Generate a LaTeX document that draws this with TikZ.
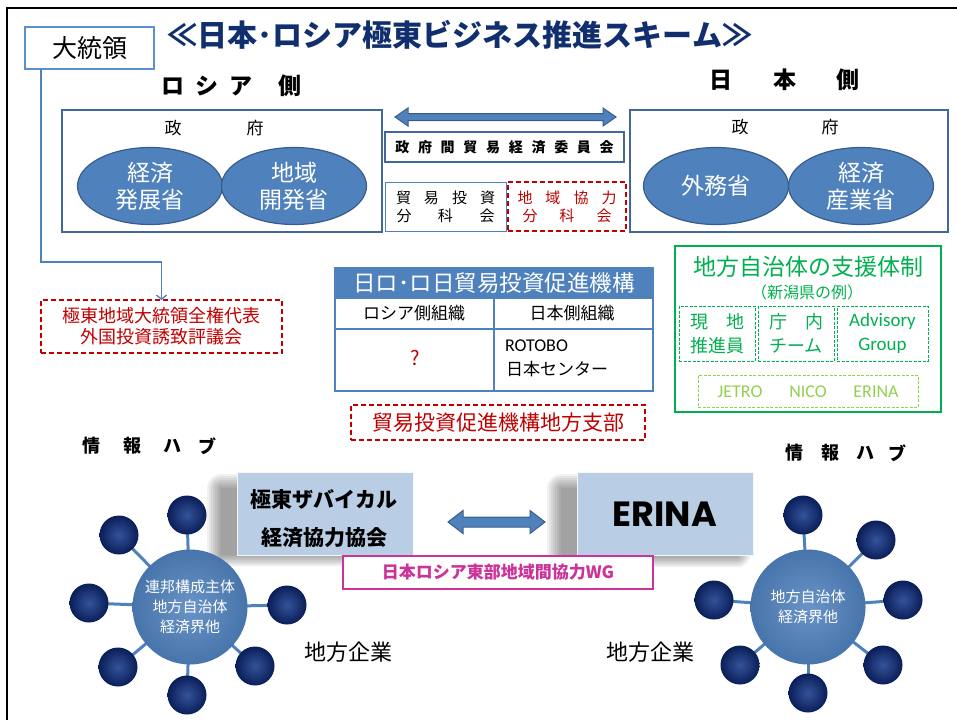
\documentclass[tikz,border=0pt]{standalone}
\usepackage{fontspec}
\setmainfont{Noto Sans CJK JP}
\newfontfamily\carl{Carlito}
\newfontfamily\popf{Poppins}
\usetikzlibrary{arrows.meta,calc,shapes.geometric,backgrounds}
\definecolor{titleblue}{HTML}{112F6E}
\definecolor{presblue}{HTML}{5B8FD0}
\definecolor{govline}{HTML}{44679A}
\definecolor{mblue}{HTML}{4F81BD}
\definecolor{dblue}{HTML}{385D8A}
\definecolor{rred}{HTML}{C00000}
\definecolor{ggreen}{HTML}{00B050}
\definecolor{lgreen}{HTML}{92D050}
\definecolor{magent}{HTML}{CC3399}
\definecolor{lbox}{HTML}{B9CDE5}
\definecolor{satin}{HTML}{34539A}
\definecolor{satout}{HTML}{0A1E58}
\newcommand\fsz[2]{\fontsize{#1pt}{#2pt}\selectfont}
\begin{document}
\begin{tikzpicture}[x=1pt,y=-1pt,
  every node/.style={inner sep=0pt,outer sep=0pt},
  govbox/.style={draw=govline,line width=1.8pt,minimum width=#1,minimum height=122pt},
  ministry/.style={ellipse,draw=dblue,line width=1.2pt,fill=mblue,minimum width=145pt,minimum height=77pt,text=white,font=\fsz{23}{27},align=center},
  reddash/.style={draw=rred,line width=1.5pt,dash pattern=on 5pt off 3pt,text=rred,align=center},
  gdash/.style={draw=ggreen,line width=1pt,dash pattern=on 3pt off 1.5pt,text=ggreen,align=center},
  sidechar/.style={font=\fsz{23}{26}\bfseries},
  hubchar/.style={font=\fsz{18}{22}\bfseries},
  lightbox/.style={fill=lbox,draw=white!85!lbox,line width=1pt,minimum width=176pt,minimum height=83pt,align=center},
  sat/.style={circle,minimum size=39pt,inner color=satin,outer color=satout},
  hub/.style={circle,minimum size=115pt,inner color=mblue!85!white,outer color=mblue!90!black,text=white,font=\fsz{15}{20},align=center},
  spoke/.style={draw=mblue,line width=3pt},
  conn/.style={draw=mblue,line width=1.3pt,-{Straight Barb[length=4pt,width=10pt]}},
  bigarrow/.style={fill=mblue,draw=dblue,line width=1pt}
]
\useasboundingbox (0,0) rectangle (957,720);
% frame
\draw[line width=2pt] (7,720) -- (7,8) -- (957,8);

% title
\node[font=\fsz{30}{36}\bfseries,text=titleblue] (title) at (460,35) {≪日本･ロシア極東ビジネス推進スキーム≫};

% president
\node[draw=presblue,line width=1.5pt,minimum width=129pt,minimum height=42pt,font=\fsz{25}{30}] (pres) at (89.5,48) {大統領};

% side labels
\node[sidechar] (ru1) at (173,86) {ロ};
\node[sidechar] (ru2) at (207,86) {シ};
\node[sidechar] (ru3) at (241,86) {ア};
\node[sidechar] (ru4) at (290,86) {側};
\node[sidechar] (jp1) at (721,80) {日};
\node[sidechar] (jp2) at (785,80) {本};
\node[sidechar] (jp3) at (848,80) {側};

% Russian government
\node[govbox=320pt] (rugov) at (222,171) {};
\node[font=\fsz{17}{20}] (rug1) at (173,128) {政};
\node[font=\fsz{17}{20}] (rug2) at (255,128) {府};
\node[ministry] (m1) at (150,186) {経済\\発展省};
\node[ministry] (m2) at (294,186) {地域\\開発省};

% Japanese government
\node[govbox=318pt] (jpgov) at (789,171) {};
\node[font=\fsz{17}{20}] (jpg1) at (740,127) {政};
\node[font=\fsz{17}{20}] (jpg2) at (830,127) {府};
\node[ministry] (m3) at (716,186) {外務省};
\node[ministry] (m4) at (861,186) {経済\\産業省};

% top double arrow
\filldraw[bigarrow] (395,117) -- (408,108) -- (408,113.5) -- (603,113.5) -- (603,108) -- (616,117) -- (603,126) -- (603,120.5) -- (408,120.5) -- (408,126) -- cycle;

% intergovernmental committee
\node[draw=govline,line width=1.3pt,minimum width=239pt,minimum height=30pt,font=\fsz{14}{17}\bfseries] (igov) at (504.5,147)
  {政\hspace{8.7pt}府\hspace{8.7pt}間\hspace{8.7pt}貿\hspace{8.7pt}易\hspace{8.7pt}経\hspace{8.7pt}済\hspace{8.7pt}委\hspace{8.7pt}員\hspace{8.7pt}会};
\node[draw=mblue,line width=1pt,minimum width=121pt,minimum height=49pt,font=\fsz{15}{18},align=center] (trade) at (445.5,206.5)
  {貿\hspace{13pt}易\hspace{13pt}投\hspace{13pt}資\\分\hspace{26.5pt}科\hspace{26.5pt}会};
\node[reddash,minimum width=118pt,minimum height=49pt,font=\fsz{15}{18}] (region) at (567,206.5)
  {地\hspace{13pt}域\hspace{13pt}協\hspace{13pt}力\\分\hspace{22pt}科\hspace{22pt}会};

% council
\node[reddash,minimum width=241pt,minimum height=53pt,font=\fsz{18}{21}] (council) at (161.5,326.5)
  {極東地域大統領全権代表\\外国投資誘致評議会};
\draw[conn] ($(pres.south west)+(16,0)$) |- ($(council.north)+(0,-38)$) -- (council.north);

% table
\node[draw=mblue,line width=2pt,minimum width=318pt,minimum height=123pt] (tbl) at (494,329.5) {};
\node[fill=mblue,draw=mblue,line width=1pt,rounded corners=3pt,minimum width=318pt,minimum height=30pt,text=white,font=\fsz{22.5}{26}] (thead) at (494,283) {日ロ･ロ日貿易投資促進機構};
\draw[draw=mblue,line width=1.5pt] (tbl.west |- thead.south) -- (tbl.east |- thead.south);
\draw[draw=mblue,line width=1.5pt] (335,329) -- (653,329);
\draw[draw=mblue,line width=1.5pt] (494,298) -- (494,391);
\node[font=\fsz{17}{20}] (c1) at (414,313) {ロシア側組織};
\node[font=\fsz{17}{20}] (c2) at (572,313) {日本側組織};
\node[font=\fsz{20}{24},text=rred] (c3) at (415,358) {?};
\node[anchor=west,font=\carl\fsz{18}{21}] (c4) at (505,346) {ROTOBO};
\node[anchor=west,font=\fsz{17}{20}] (c5) at (506,369) {日本センター};

% branch
\node[reddash,minimum width=294pt,minimum height=35pt,font=\fsz{21}{25}] (branch) at (498,422.5) {貿易投資促進機構地方支部};

% green box
\node[draw=ggreen,line width=2pt,minimum width=266pt,minimum height=166pt] (green) at (808,329) {};
\node[text=ggreen,font=\fsz{23}{27}] (gt) at (808,267) {地方自治体の支援体制};
\node[text=ggreen,font=\fsz{16}{19}] (gs) at (807,292) {（新潟県の例）};
\node[gdash,minimum width=76pt,minimum height=55pt,font=\fsz{18}{24}] (g1) at (717,333.5) {現\hspace{1em}地\\推進員};
\node[gdash,minimum width=76pt,minimum height=55pt,font=\fsz{18}{24}] (g2) at (796,333.5) {庁\hspace{1em}内\\チーム};
\node[gdash,minimum width=91pt,minimum height=55pt,font=\carl\fsz{19}{24}] (g3) at (882.5,333.5) {Advisory\\Group};
\node[draw=lgreen,line width=1pt,dash pattern=on 3pt off 1.5pt,minimum width=220pt,minimum height=32pt] (g4) at (808,391) {};
\node[text=lgreen,font=\carl\fsz{18}{21}] (j1) at (740,392) {JETRO};
\node[text=lgreen,font=\carl\fsz{18}{21}] (j2) at (808,392) {NICO};
\node[text=lgreen,font=\carl\fsz{18}{21}] (j3) at (876,392) {ERINA};

% info hub labels
\node[hubchar] (h1) at (91,446) {情};
\node[hubchar] (h2) at (132,446) {報};
\node[hubchar] (h3) at (172,446) {ハ};
\node[hubchar] (h4) at (207,446) {ブ};
\node[hubchar] (h5) at (794,453) {情};
\node[hubchar] (h6) at (830,453) {報};
\node[hubchar] (h7) at (865,453) {ハ};
\node[hubchar] (h8) at (897,453) {ブ};

% shadows
\foreach \r in {14,12,...,0} {
  \fill[black,opacity=0.055,rounded corners=\r pt] ({237-16-\r},{472+16-\r}) rectangle ({413-16+\r},{555+0.8*\r});
  \fill[black,opacity=0.055,rounded corners=\r pt] ({577-16-\r},{472+16-\r}) rectangle ({753-16+\r},{556+0.8*\r});
}
% organisations
\node[lightbox] (far) at (325,513.5) {};
\node[font=\fsz{21}{25}\bfseries] (farA) at (324,500) {極東ザバイカル};
\node[font=\fsz{21}{25}\bfseries] (farB) at (324,538) {経済協力協会};
\node[lightbox,font=\popf\bfseries\fsz{35}{40}] (erina) at (665,514) {ERINA};
\filldraw[bigarrow] (448,522) -- (463,510.5) -- (463,517) -- (530,517) -- (530,510.5) -- (545,522) -- (530,533.5) -- (530,527) -- (463,527) -- (463,533.5) -- cycle;
\node[draw=magent,line width=1.8pt,fill=white,minimum width=310pt,minimum height=33pt,text=magent,font=\fsz{17}{20}\bfseries] (wg) at (498,572.5) {日本ロシア東部地域間協力WG};

% left hub
\node[sat] (l1) at (187,515) {};
\node[sat] (l2) at (119,535) {};
\node[sat] (l3) at (89,603) {};
\node[sat] (l4) at (118,667) {};
\node[sat] (l5) at (187,695) {};
\node[sat] (l6) at (255,666) {};
\node[sat] (l7) at (287,605) {};
\node[hub] (hubL) at (190,607) {連邦構成主体\\地方自治体\\経済界他};
\begin{scope}[on background layer]
\foreach \s in {l1,l2,l3,l4,l5,l6,l7} \draw[spoke] (hubL.center) -- (\s.center);
\end{scope}

% right hub
\node[sat] (r1) at (803,515) {};
\node[sat] (r2) at (876,540) {};
\node[sat] (r3) at (903,600) {};
\node[sat] (r4) at (883,665) {};
\node[sat] (r5) at (808,693) {};
\node[sat] (r6) at (740,665) {};
\node[sat] (r7) at (714,600) {};
\node[hub] (hubR) at (808,607) {地方自治体\\経済界他};
\begin{scope}[on background layer]
\foreach \s in {r1,r2,r3,r4,r5,r6,r7} \draw[spoke] (hubR.center) -- (\s.center);
\end{scope}

% local companies
\node[font=\fsz{22}{26}] (lc1) at (348,652) {地方企業};
\node[font=\fsz{22}{26}] (lc2) at (650,652) {地方企業};
\end{tikzpicture}
\end{document}
